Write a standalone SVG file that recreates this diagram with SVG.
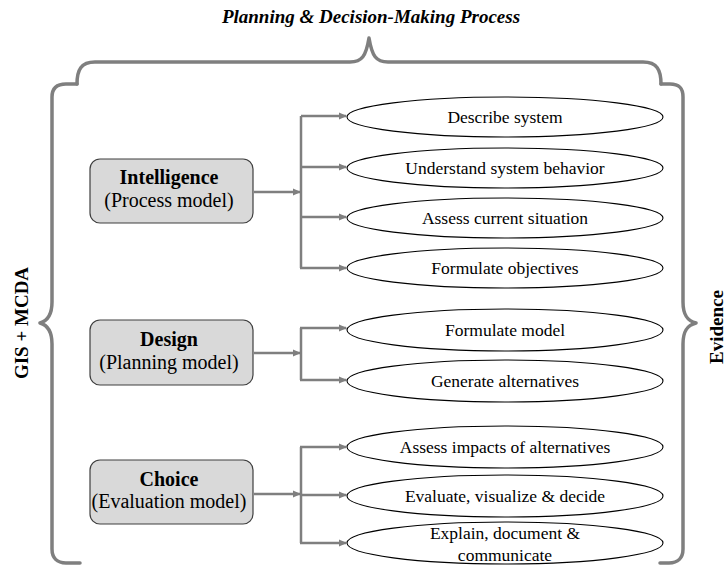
<svg xmlns="http://www.w3.org/2000/svg" width="726" height="565" viewBox="0 0 726 565">
<style>
.brace{fill:none;stroke:#7f7f7f;stroke-width:3.5;stroke-linejoin:round;stroke-linecap:round}
.box{fill:#d9d9d9;stroke:#3f3f3f;stroke-width:1.2}
.ell{fill:#fff;stroke:#000;stroke-width:1.1}
.conn{fill:none;stroke:#7f7f7f;stroke-width:2.5}
.t{font-family:"Liberation Serif","Times New Roman",serif;fill:#000;text-anchor:middle}
.et{font-size:17.5px}
.bt1{font-size:20px;font-weight:bold}
.bt2{font-size:20px}
.side{font-size:19px;font-weight:bold}
</style>
<defs>
<marker id="ah" viewBox="0 0 8 8" refX="7" refY="4" markerWidth="8" markerHeight="8" markerUnits="userSpaceOnUse" orient="auto">
<path d="M0,0.5 L8,4 L0,7.5 z" fill="#7f7f7f"/>
</marker>
</defs>

<text class="t" x="371" y="23" style="font-size:19px;font-weight:bold;font-style:italic">Planning &amp; Decision-Making Process</text>

<g id="braces">
<path class="brace" d="M77,84 C77,70 81,62 95,62 L350,62 C362,62 366,56 369,38 C372,56 376,62 388,62 L643,62 C657,62 661,70 661,84"/>
<path class="brace" d="M77,84 L66,84 C57,84 52,88 52,97 L52,302 C52,316 47,321 40,323 C47,325 52,330 52,344 L52,549 C52,558 57,563 66,563 L80,563"/>
<path class="brace" d="M661,84 L670,84 C679,84 683,88 683,97 L683,302 C683,316 688,321 696,323 C688,325 683,330 683,344 L683,549 C683,558 678,563 669,563 L660,563"/>
</g>
<text class="t side" transform="translate(28,323) rotate(-90)">GIS + MCDA</text>
<text class="t side" transform="translate(723,327) rotate(-90)">Evidence</text>

<g id="connectors">
<path class="conn" d="M254,192 L300,192" marker-end="url(#ah)"/>
<path class="conn" d="M301,116 L301,268"/>
<path class="conn" d="M301,116 L346,116" marker-end="url(#ah)"/>
<path class="conn" d="M301,167 L346,167" marker-end="url(#ah)"/>
<path class="conn" d="M301,217 L346,217" marker-end="url(#ah)"/>
<path class="conn" d="M300,268 L346,268" marker-end="url(#ah)"/>

<path class="conn" d="M254,353 L300,353" marker-end="url(#ah)"/>
<path class="conn" d="M301,328 L301,380"/>
<path class="conn" d="M300,328 L346,328" marker-end="url(#ah)"/>
<path class="conn" d="M300,380 L346,380" marker-end="url(#ah)"/>

<path class="conn" d="M254,494 L300,494" marker-end="url(#ah)"/>
<path class="conn" d="M301,447 L301,543"/>
<path class="conn" d="M300,447 L346,447" marker-end="url(#ah)"/>
<path class="conn" d="M301,495 L346,495" marker-end="url(#ah)"/>
<path class="conn" d="M300,543 L346,543" marker-end="url(#ah)"/>
</g>

<g id="intelligence">
<rect class="box" x="90" y="159" width="163" height="64" rx="10"/>
<text class="t bt1" x="169" y="184">Intelligence</text>
<text class="t bt2" x="169" y="207">(Process model)</text>
</g>
<g id="design">
<rect class="box" x="90" y="320" width="163" height="65" rx="10"/>
<text class="t bt1" x="169" y="346">Design</text>
<text class="t bt2" x="169" y="369">(Planning model)</text>
</g>
<g id="choice">
<rect class="box" x="90" y="460" width="163" height="64" rx="10"/>
<text class="t bt1" x="169" y="486">Choice</text>
<text class="t bt2" x="169" y="508">(Evaluation model)</text>
</g>

<g id="describe-system">
<ellipse class="ell" cx="505" cy="117" rx="158" ry="20"/>
<text class="t et" x="505" y="123">Describe system</text>
</g>
<g id="understand-system-behavior">
<ellipse class="ell" cx="505" cy="168" rx="158" ry="20"/>
<text class="t et" x="505" y="174">Understand system behavior</text>
</g>
<g id="assess-current-situation">
<ellipse class="ell" cx="505" cy="218" rx="158" ry="20"/>
<text class="t et" x="505" y="224">Assess current situation</text>
</g>
<g id="formulate-objectives">
<ellipse class="ell" cx="505" cy="268" rx="158" ry="20"/>
<text class="t et" x="505" y="274">Formulate objectives</text>
</g>
<g id="formulate-model">
<ellipse class="ell" cx="505" cy="330" rx="158" ry="21"/>
<text class="t et" x="505" y="336">Formulate model</text>
</g>
<g id="generate-alternatives">
<ellipse class="ell" cx="505" cy="381" rx="158" ry="21"/>
<text class="t et" x="505" y="387">Generate alternatives</text>
</g>
<g id="assess-impacts">
<ellipse class="ell" cx="505" cy="447" rx="158" ry="21"/>
<text class="t et" x="505" y="453">Assess impacts of alternatives</text>
</g>
<g id="evaluate-visualize-decide">
<ellipse class="ell" cx="505" cy="496" rx="158" ry="21"/>
<text class="t et" x="505" y="502">Evaluate, visualize &amp; decide</text>
</g>
<g id="explain-document-communicate">
<ellipse class="ell" cx="505" cy="543" rx="158" ry="21"/>
<text class="t et" x="505" y="539">Explain, document &amp;</text>
<text class="t et" x="505" y="561">communicate</text>
</g>
</svg>
